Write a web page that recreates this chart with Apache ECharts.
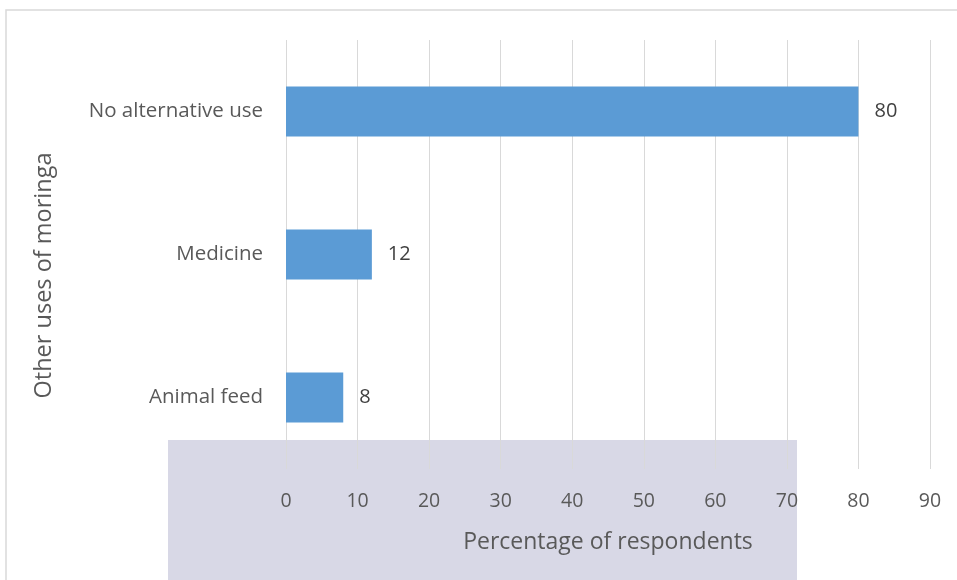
<!DOCTYPE html>
<html><head><meta charset="utf-8">
<script src="https://cdn.jsdelivr.net/npm/echarts@6/dist/echarts.min.js"></script>
<style>html,body{margin:0;padding:0;background:#fff}#c{width:957px;height:580px}</style>
</head><body><div id="c"></div>
<script>
const categories = ['Animal feed', 'Medicine', 'No alternative use'];
const values = [8, 12, 80];
const xTicks = [0, 10, 20, 30, 40, 50, 60, 70, 80, 90];

const chart = echarts.init(document.getElementById('c'));
const F = '"Open Sans", sans-serif';
chart.setOption({
  animation: false,
  graphic: [
    { type: 'rect', z: -10, shape: { x: 6, y: 10, width: 960, height: 580 }, style: { fill: '#fff', stroke: '#d9d9d9', lineWidth: 1.5 } },
    { type: 'rect', z: -5, shape: { x: 168, y: 440, width: 629, height: 150 }, style: { fill: '#d8d8e6' } }
  ],
  grid: { left: 286, right: 27, top: 40, bottom: 111, containLabel: false },
  xAxis: {
    type: 'value', min: 0, max: 90, interval: 10,
    name: 'Percentage of respondents', nameLocation: 'middle', nameGap: 62,
    nameTextStyle: { fontFamily: F, fontSize: 23, color: '#595959' },
    axisLine: { show: false }, axisTick: { show: false },
    axisLabel: { fontFamily: F, fontSize: 19.5, color: '#595959', margin: 22,
      formatter: v => xTicks.includes(v) ? String(v) : '' },
    splitLine: { lineStyle: { color: '#d9d9d9', width: 1 } }
  },
  yAxis: {
    type: 'category', data: categories,
    name: 'Other uses of moringa', nameLocation: 'middle', nameGap: 230, nameRotate: 90,
    nameTextStyle: { fontFamily: F, fontSize: 23.5, color: '#595959', padding: [0, 0, 0, -42] },
    axisLine: { show: false }, axisTick: { show: false },
    axisLabel: { fontFamily: F, fontSize: 20.5, color: '#595959', margin: 23 }
  },
  series: [{
    type: 'bar', data: values, barWidth: 50,
    itemStyle: { color: '#5b9bd5' },
    label: { show: true, position: 'right', distance: 16, fontFamily: F, fontSize: 20, color: '#404040' }
  }]
});
</script></body></html>
